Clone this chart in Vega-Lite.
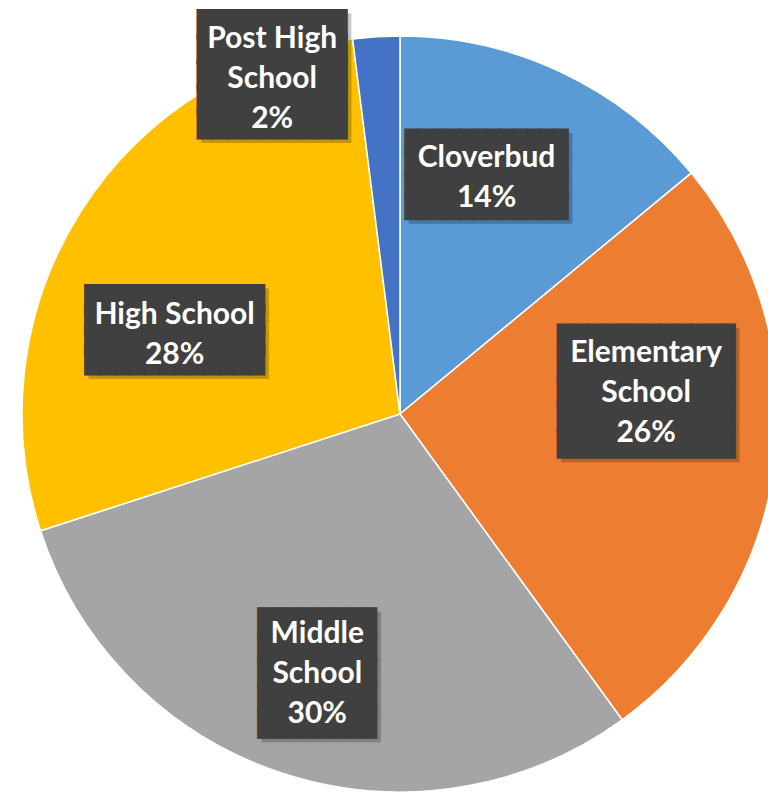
{
  "$schema": "https://vega.github.io/schema/vega-lite/v6.json",
  "width": 736,
  "height": 756,
  "autosize": {"type": "none"},
  "padding": {"left": 32, "top": 36, "right": 0, "bottom": 0},
  "background": "white",
  "config": {"view": {"stroke": null}},
  "data": {
    "values": [
      {"cat": "Cloverbud", "label": "Cloverbud\n14%", "value": 14, "order": 1},
      {"cat": "Elementary School", "label": "Elementary\nSchool\n26%", "value": 26, "order": 2},
      {"cat": "Middle School", "label": "Middle\nSchool\n30%", "value": 30, "order": 3},
      {"cat": "High School", "label": "High School\n28%", "value": 28, "order": 4},
      {"cat": "Post High School", "label": "Post High\nSchool\n2%", "value": 2, "order": 5}
    ]
  },
  "encoding": {
    "theta": {"field": "value", "type": "quantitative", "stack": true},
    "order": {"field": "order", "type": "quantitative"},
    "detail": {"field": "cat", "type": "nominal"}
  },
  "layer": [
    {
      "mark": {"type": "arc", "outerRadius": 378, "stroke": "white", "strokeWidth": 1.5},
      "encoding": {
        "color": {
          "field": "cat", "type": "nominal", "legend": null,
          "scale": {
            "domain": ["Cloverbud", "Elementary School", "Middle School", "High School", "Post High School"],
            "range": ["#5B9BD5", "#ED7D31", "#A5A5A5", "#FFC000", "#4472C4"]
          }
        }
      }
    },
    {
      "mark": {"type": "text", "radius": 255, "dx": -18, "dy": -36, "font": "DejaVu Sans Mono", "fontSize": 22.6, "lineHeight": 21.2, "lineBreak": "\n", "align": "center", "baseline": "middle", "fill": "black", "opacity": 0.22},
      "encoding": {"text": {"condition": {"test": "datum.cat === 'Cloverbud'", "value": "████████████\n████████████\n████████████\n████████████"}, "value": ""}}
    },
    {
      "mark": {"type": "text", "radius": 241, "dx": 11, "dy": -100, "font": "DejaVu Sans Mono", "fontSize": 24.6, "lineHeight": 26.3, "lineBreak": "\n", "align": "center", "baseline": "middle", "fill": "black", "opacity": 0.22},
      "encoding": {"text": {"condition": {"test": "datum.cat === 'Elementary School'", "value": "████████████\n████████████\n████████████\n████████████\n████████████"}, "value": ""}}
    },
    {
      "mark": {"type": "text", "radius": 271, "dx": 5, "dy": -44, "font": "DejaVu Sans Mono", "fontSize": 24.7, "lineHeight": 25.3, "lineBreak": "\n", "align": "center", "baseline": "middle", "fill": "black", "opacity": 0.22},
      "encoding": {"text": {"condition": {"test": "datum.cat === 'Middle School'", "value": "████████\n████████\n████████\n████████\n████████"}, "value": ""}}
    },
    {
      "mark": {"type": "text", "radius": 235, "dx": -23, "dy": 17, "font": "DejaVu Sans Mono", "fontSize": 24.9, "lineHeight": 20.3, "lineBreak": "\n", "align": "center", "baseline": "middle", "fill": "black", "opacity": 0.22},
      "encoding": {"text": {"condition": {"test": "datum.cat === 'High School'", "value": "████████████\n████████████\n████████████\n████████████"}, "value": ""}}
    },
    {
      "mark": {"type": "text", "radius": 348, "dx": -102, "dy": -37, "font": "DejaVu Sans Mono", "fontSize": 24.9, "lineHeight": 25, "lineBreak": "\n", "align": "center", "baseline": "middle", "fill": "black", "opacity": 0.22},
      "encoding": {"text": {"condition": {"test": "datum.cat === 'Post High School'", "value": "██████████\n██████████\n██████████\n██████████\n██████████"}, "value": ""}}
    },
    {
      "mark": {"type": "text", "radius": 255, "dx": -22, "dy": -40, "font": "DejaVu Sans Mono", "fontSize": 22.6, "lineHeight": 21.2, "lineBreak": "\n", "align": "center", "baseline": "middle", "fill": "#404040", "stroke": "#404040", "strokeWidth": 1},
      "encoding": {"text": {"condition": {"test": "datum.cat === 'Cloverbud'", "value": "████████████\n████████████\n████████████\n████████████"}, "value": ""}}
    },
    {
      "mark": {"type": "text", "radius": 241, "dx": 7, "dy": -104, "font": "DejaVu Sans Mono", "fontSize": 24.6, "lineHeight": 26.3, "lineBreak": "\n", "align": "center", "baseline": "middle", "fill": "#404040", "stroke": "#404040", "strokeWidth": 1},
      "encoding": {"text": {"condition": {"test": "datum.cat === 'Elementary School'", "value": "████████████\n████████████\n████████████\n████████████\n████████████"}, "value": ""}}
    },
    {
      "mark": {"type": "text", "radius": 271, "dx": 1, "dy": -48, "font": "DejaVu Sans Mono", "fontSize": 24.7, "lineHeight": 25.3, "lineBreak": "\n", "align": "center", "baseline": "middle", "fill": "#404040", "stroke": "#404040", "strokeWidth": 1},
      "encoding": {"text": {"condition": {"test": "datum.cat === 'Middle School'", "value": "████████\n████████\n████████\n████████\n████████"}, "value": ""}}
    },
    {
      "mark": {"type": "text", "radius": 235, "dx": -27, "dy": 13, "font": "DejaVu Sans Mono", "fontSize": 24.9, "lineHeight": 20.3, "lineBreak": "\n", "align": "center", "baseline": "middle", "fill": "#404040", "stroke": "#404040", "strokeWidth": 1},
      "encoding": {"text": {"condition": {"test": "datum.cat === 'High School'", "value": "████████████\n████████████\n████████████\n████████████"}, "value": ""}}
    },
    {
      "mark": {"type": "text", "radius": 348, "dx": -106, "dy": -41, "font": "DejaVu Sans Mono", "fontSize": 24.9, "lineHeight": 25, "lineBreak": "\n", "align": "center", "baseline": "middle", "fill": "#404040", "stroke": "#404040", "strokeWidth": 1},
      "encoding": {"text": {"condition": {"test": "datum.cat === 'Post High School'", "value": "██████████\n██████████\n██████████\n██████████\n██████████"}, "value": ""}}
    },
    {
      "mark": {"type": "text", "radius": 255, "dx": -22, "dy": -25, "font": "Lato", "fontWeight": "bold", "fontSize": 30, "lineHeight": 40, "lineBreak": "\n", "align": "center", "baseline": "middle", "fill": "white"},
      "encoding": {"text": {"field": "label", "type": "nominal", "condition": {"test": "datum.cat !== 'Cloverbud'", "value": ""}}}
    },
    {
      "mark": {"type": "text", "radius": 241, "dx": 7, "dy": -91, "font": "Lato", "fontWeight": "bold", "fontSize": 30, "lineHeight": 40, "lineBreak": "\n", "align": "center", "baseline": "middle", "fill": "white"},
      "encoding": {"text": {"field": "label", "type": "nominal", "condition": {"test": "datum.cat !== 'Elementary School'", "value": ""}}}
    },
    {
      "mark": {"type": "text", "radius": 271, "dx": 1, "dy": -38, "font": "Lato", "fontWeight": "bold", "fontSize": 30, "lineHeight": 40, "lineBreak": "\n", "align": "center", "baseline": "middle", "fill": "white"},
      "encoding": {"text": {"field": "label", "type": "nominal", "condition": {"test": "datum.cat !== 'Middle School'", "value": ""}}}
    },
    {
      "mark": {"type": "text", "radius": 235, "dx": -27, "dy": 27, "font": "Lato", "fontWeight": "bold", "fontSize": 30, "lineHeight": 40, "lineBreak": "\n", "align": "center", "baseline": "middle", "fill": "white"},
      "encoding": {"text": {"field": "label", "type": "nominal", "condition": {"test": "datum.cat !== 'High School'", "value": ""}}}
    },
    {
      "mark": {"type": "text", "radius": 348, "dx": -106, "dy": -28, "font": "Lato", "fontWeight": "bold", "fontSize": 30, "lineHeight": 40, "lineBreak": "\n", "align": "center", "baseline": "middle", "fill": "white"},
      "encoding": {"text": {"field": "label", "type": "nominal", "condition": {"test": "datum.cat !== 'Post High School'", "value": ""}}}
    }
  ]
}
